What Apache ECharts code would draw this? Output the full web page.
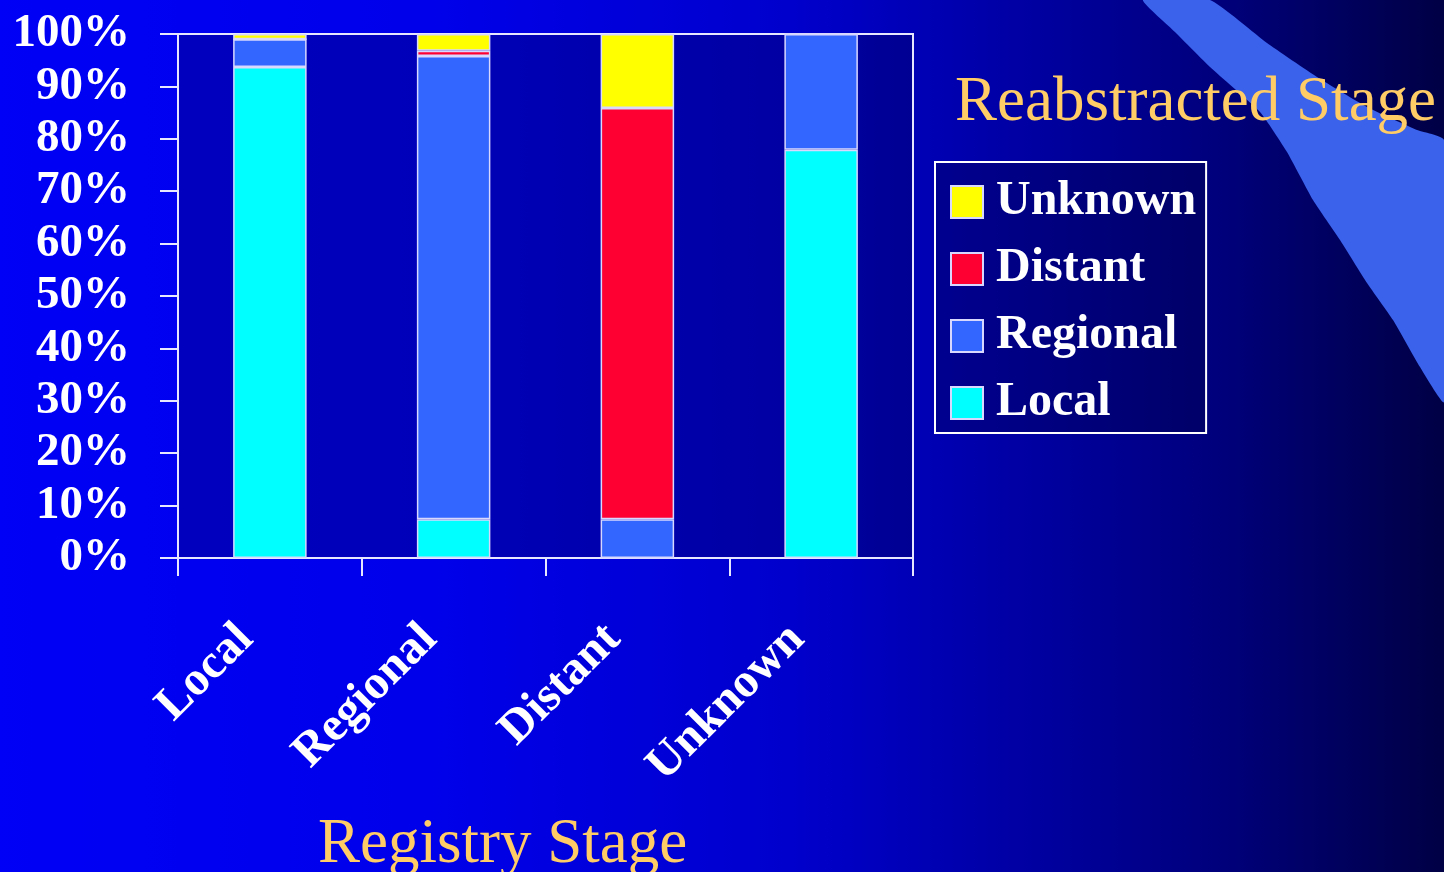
<!DOCTYPE html>
<html>
<head>
<meta charset="utf-8">
<title>Registry vs Reabstracted Stage</title>
<script src="https://cdn.jsdelivr.net/npm/echarts@6/dist/echarts.min.js"></script>
<style>
  html, body { margin: 0; padding: 0; width: 1444px; height: 872px; overflow: hidden; }
  body { background: linear-gradient(90deg, #0000f6 0%, #0000ea 30%, #0000cc 55%, #0000a0 72%, #00007a 85%, #000045 100%); }
  #chart { width: 1444px; height: 872px; }
</style>
</head>
<body>
<div id="chart"></div>
<script>
// Registry stage categories along the x axis
const categories = ['Local', 'Regional', 'Distant', 'Unknown'];

// Share (%) of each registry stage assigned to each reabstracted stage
const localShare    = [93.7, 7.4, 0, 77.9];
const regionalShare = [5.3, 88.4, 7.4, 22.1];
const distantShare  = [0, 1.0, 78.5, 0];
const unknownShare  = [1.0, 3.2, 14.1, 0];

// Percent tick labels on the value axis
const yTicks = [0, 10, 20, 30, 40, 50, 60, 70, 80, 90, 100];

const serif = '"Liberation Serif", "Times New Roman", serif';
const gold = '#ffcc66';
const white = '#ffffff';
const axisColor = '#e6e6ff';
const barEdge = '#d8d8ff';

function stackSeries(name, data, color) {
  return {
    name: name,
    type: 'bar',
    stack: 'total',
    data: data,
    barWidth: '40%',
    itemStyle: { color: color, borderColor: barEdge, borderWidth: 1.5 },
    emphasis: { disabled: true }
  };
}

const chart = echarts.init(document.getElementById('chart'), null, { renderer: 'canvas' });

chart.setOption({
  backgroundColor: 'transparent',
  animation: false,
  graphic: [
    {
      // light-blue sweep across the top-right corner
      type: 'polygon',
      z: 0,
      silent: true,
      shape: {
        points: [
          [1143, 0], [1210, 0], [1267, 43], [1317, 77], [1367, 107], [1417, 130], [1444, 140],
          [1444, 402], [1420, 367], [1393, 320], [1367, 283], [1340, 240], [1313, 200],
          [1287, 152], [1260, 112], [1210, 67], [1175, 32]
        ],
        smooth: 0.15
      },
      style: { fill: '#3a62ea' }
    }
  ],
  title: [
    {
      text: 'Reabstracted Stage',
      left: 955, top: 72, padding: 0,
      textStyle: { color: gold, fontFamily: serif, fontWeight: 'normal', fontSize: 63 }
    },
    {
      text: 'Registry Stage',
      left: 318, top: 814, padding: 0,
      textStyle: { color: gold, fontFamily: serif, fontWeight: 'normal', fontSize: 63 }
    }
  ],
  legend: {
    orient: 'vertical',
    left: 935, top: 162,
    padding: [16, 10, 6, 15],
    itemGap: 19,
    itemWidth: 32, itemHeight: 32,
    icon: 'rect',
    backgroundColor: 'rgba(0,0,40,0.25)',
    borderColor: white, borderWidth: 2,
    selectedMode: false,
    data: ['Unknown', 'Distant', 'Regional', 'Local'],
    textStyle: {
      color: white, fontFamily: serif, fontWeight: 'bold', fontSize: 48,
      lineHeight: 48, padding: [0, 0, 0, 8]
    }
  },
  grid: {
    left: 178, right: 531, top: 34, bottom: 314,
    show: true,
    backgroundColor: 'rgba(0,0,40,0.25)',
    borderColor: axisColor, borderWidth: 2
  },
  xAxis: {
    type: 'category',
    data: categories,
    boundaryGap: true,
    axisLine: { show: true, lineStyle: { color: axisColor, width: 2 } },
    axisTick: { show: true, length: 18, lineStyle: { color: axisColor, width: 2 } },
    axisLabel: {
      rotate: 45, margin: 50, interval: 0,
      color: white, fontFamily: serif, fontWeight: 'bold', fontSize: 48,
      padding: [0, 34, 0, 0]
    },
    splitLine: { show: false }
  },
  yAxis: {
    type: 'value',
    min: yTicks[0], max: yTicks[yTicks.length - 1], interval: yTicks[1] - yTicks[0],
    axisLine: { show: true, lineStyle: { color: axisColor, width: 2 } },
    axisTick: { show: true, length: 18, lineStyle: { color: axisColor, width: 2 } },
    axisLabel: {
      margin: 48,
      color: white, fontFamily: serif, fontWeight: 'bold', fontSize: 47,
      formatter: '{value}%'
    },
    splitLine: { show: false }
  },
  series: [
    stackSeries('Local', localShare, '#00ffff'),
    stackSeries('Regional', regionalShare, '#3366ff'),
    stackSeries('Distant', distantShare, '#ff0033'),
    stackSeries('Unknown', unknownShare, '#ffff00')
  ]
});
</script>
</body>
</html>
